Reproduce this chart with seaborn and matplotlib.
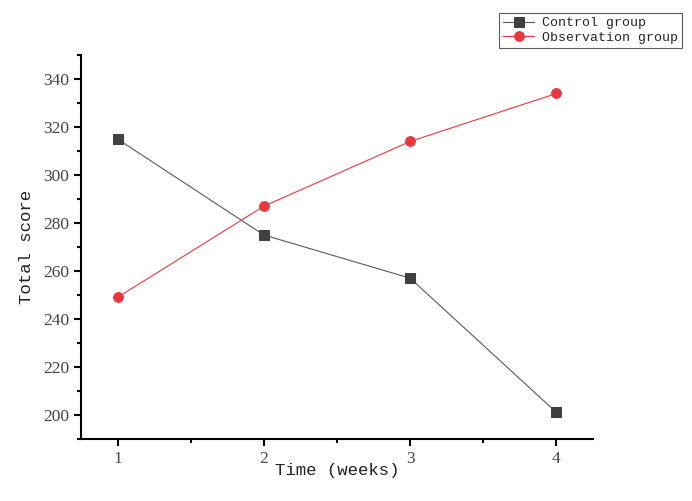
import pandas as pd
import matplotlib.pyplot as plt
import seaborn as sns
from matplotlib.ticker import MultipleLocator

weeks = [1, 2, 3, 4]
control = [315, 275, 257, 201]
observation = [249, 287, 314, 334]
groups = ['Control group', 'Observation group']

df = pd.DataFrame({
    'week': weeks * 2,
    'score': control + observation,
    'group': [groups[0]] * 4 + [groups[1]] * 4,
})

sns.set_style('ticks')
plt.rcParams['font.family'] = ['Liberation Serif', 'DejaVu Serif']

fig = plt.figure(figsize=(6.92, 5.01), dpi=100)
ax = fig.add_axes([0.117, 0.124, 0.740, 0.766])

styles = {
    'Control group': dict(color='#5a5a5a', marker='s', markersize=6.5,
                          markerfacecolor='#404040', markeredgecolor='#404040'),
    'Observation group': dict(color='#e8383d', marker='o', markersize=7,
                              markerfacecolor='#e8383d', markeredgecolor='#e8383d'),
}
for g in groups:
    sns.lineplot(data=df[df['group'] == g], x='week', y='score', ax=ax,
                 label=g, linewidth=0.8, **styles[g])

ax.set_xlim(0.75, 4.25)
ax.set_ylim(190, 350)
ax.xaxis.set_major_locator(MultipleLocator(1))
ax.xaxis.set_minor_locator(MultipleLocator(0.5))
ax.yaxis.set_major_locator(MultipleLocator(20))
ax.yaxis.set_minor_locator(MultipleLocator(10))
sns.despine(ax=ax)
for s in ['left', 'bottom']:
    ax.spines[s].set_linewidth(1.5)
    ax.spines[s].set_color('black')
ax.tick_params(which='major', length=5, width=1.5, color='black',
               labelsize=12.5, labelcolor='#444444', direction='out')
ax.tick_params(which='minor', length=3, width=1.5, color='black', direction='out')

ax.set_xlabel('Time (weeks)', family='Liberation Mono', fontsize=12.5,
              color='#222222')
ax.xaxis.set_label_coords(0.5, -0.062)
ax.set_ylabel('Total score', family='Liberation Mono', fontsize=12.5,
              color='#222222')
ax.yaxis.set_label_coords(-0.092, 0.5)

ax.get_legend().remove()
handles, labels = ax.get_legend_handles_labels()
leg = fig.legend(handles, labels, loc='upper right', bbox_to_anchor=(0.986, 0.974),
                 prop={'family': 'Liberation Mono', 'size': 9.5}, frameon=True,
                 fancybox=False, edgecolor='#333333', borderpad=0.3,
                 labelspacing=0.2, handlelength=2.4, handletextpad=0.6,
                 borderaxespad=0)
leg.get_frame().set_linewidth(0.8)

fig.savefig('out.png', dpi=100)
